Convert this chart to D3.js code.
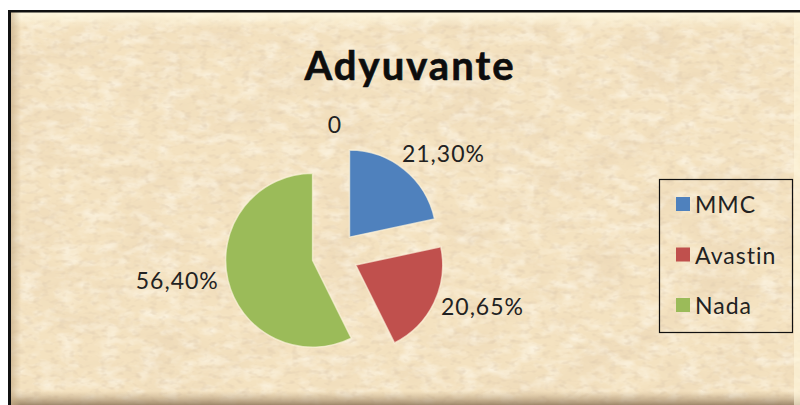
<!DOCTYPE html>
<html>
<head>
<meta charset="utf-8">
<script src="https://cdn.jsdelivr.net/npm/d3@7"></script>
<style>
  body { margin: 0; background: #fff; }
  svg { display: block; font-family: Lato, "Open Sans", sans-serif; }
</style>
</head>
<body>
<svg id="chart"></svg>
<script>
const categories = ["MMC", "Avastin", "Nada", ""];
const values = [21.30, 20.65, 56.40, 0];
const valueLabels = ["21,30%", "20,65%", "56,40%", "0"];
const colors = ["#4f81bd", "#c0504d", "#9bbb59", "#8064a2"];
const title = "Adyuvante";

const width = 800, height = 405;
const svg = d3.select("#chart").attr("width", width).attr("height", height);
const defs = svg.append("defs");

// parchment texture
const f = defs.append("filter").attr("id", "paper")
  .attr("x", 0).attr("y", 0).attr("width", "100%").attr("height", "100%");
f.append("feTurbulence").attr("type", "fractalNoise")
  .attr("baseFrequency", "0.016 0.03").attr("numOctaves", 4).attr("seed", 7);
f.append("feColorMatrix").attr("type", "matrix")
  .attr("values", "0 0 0 0 0.8  0 0 0 0 0.64  0 0 0 0 0.44  1.1 0 0 0 -0.47");

const f2 = defs.append("filter").attr("id", "paper2")
  .attr("x", 0).attr("y", 0).attr("width", "100%").attr("height", "100%");
f2.append("feTurbulence").attr("type", "fractalNoise")
  .attr("baseFrequency", "0.05 0.09").attr("numOctaves", 3).attr("seed", 3);
f2.append("feColorMatrix").attr("type", "matrix")
  .attr("values", "0 0 0 0 1  0 0 0 0 0.97  0 0 0 0 0.88  1.3 0 0 0 -0.55");

const f3 = defs.append("filter").attr("id", "paper3")
  .attr("x", 0).attr("y", 0).attr("width", "100%").attr("height", "100%");
f3.append("feTurbulence").attr("type", "fractalNoise")
  .attr("baseFrequency", "0.12 0.2").attr("numOctaves", 2).attr("seed", 11);
f3.append("feColorMatrix").attr("type", "matrix")
  .attr("values", "0 0 0 0 0.72  0 0 0 0 0.58  0 0 0 0 0.42  1.4 0 0 0 -0.72");

const gTop = defs.append("linearGradient").attr("id", "bevTop").attr("x1", 0).attr("x2", 0).attr("y1", 0).attr("y2", 1);
gTop.append("stop").attr("offset", "0%").attr("stop-color", "#fff8e0").attr("stop-opacity", 0.95);
gTop.append("stop").attr("offset", "100%").attr("stop-color", "#fff8e0").attr("stop-opacity", 0);
const gBot = defs.append("linearGradient").attr("id", "bevBot").attr("x1", 0).attr("x2", 0).attr("y1", 0).attr("y2", 1);
gBot.append("stop").attr("offset", "0%").attr("stop-color", "#b89d78").attr("stop-opacity", 0);
gBot.append("stop").attr("offset", "100%").attr("stop-color", "#8a7255").attr("stop-opacity", 0.8);
const gLeft = defs.append("linearGradient").attr("id", "bevLeft").attr("x1", 0).attr("x2", 1).attr("y1", 0).attr("y2", 0);
gLeft.append("stop").attr("offset", "0%").attr("stop-color", "#c9b08a").attr("stop-opacity", 0.7);
gLeft.append("stop").attr("offset", "100%").attr("stop-color", "#c9b08a").attr("stop-opacity", 0);

const bg = () => svg.append("rect").attr("x", 11).attr("y", 12)
  .attr("width", width - 11).attr("height", height - 12);
bg().attr("fill", "#f4e2c0");
bg().attr("filter", "url(#paper)");
bg().attr("filter", "url(#paper2)");
bg().attr("filter", "url(#paper3)");
svg.append("rect").attr("x", 11).attr("y", 12).attr("width", width - 11).attr("height", 16).attr("fill", "url(#bevTop)");
svg.append("rect").attr("x", 11).attr("y", height - 14).attr("width", width - 11).attr("height", 14).attr("fill", "url(#bevBot)");
svg.append("rect").attr("x", 11).attr("y", 12).attr("width", 10).attr("height", height - 12).attr("fill", "url(#bevLeft)");
svg.append("rect").attr("x", width - 6).attr("y", 12).attr("width", 6).attr("height", height - 12)
  .attr("fill", "#fff6dc").attr("opacity", 0.6);
// black frame edges
svg.append("rect").attr("x", 8).attr("y", 10).attr("width", width - 8).attr("height", 2.5).attr("fill", "#111");
svg.append("rect").attr("x", 8).attr("y", 10).attr("width", 3).attr("height", height - 10).attr("fill", "#111");

// title
svg.append("text")
  .attr("x", 410).attr("y", 80)
  .attr("text-anchor", "middle")
  .attr("font-size", 40).attr("font-weight", "bold")
  .attr("letter-spacing", 2)
  .attr("fill", "#0d0d0d")
  .attr("stroke", "#0d0d0d").attr("stroke-width", 0.6)
  .text(title);

// pie
const cx = 335, cy = 255, r = 87, explode = 23;
const data = categories.map((c, i) => ({ name: c, value: values[i], label: valueLabels[i], color: colors[i] }));
const pie = d3.pie().sort(null).value(d => d.value);
const arcs = pie(data);
const arc = d3.arc().innerRadius(0).outerRadius(r);
const dirOf = a => {
  const m = (a.startAngle + a.endAngle) / 2;
  return [Math.sin(m), -Math.cos(m)];
};

const pieG = svg.append("g").attr("transform", `translate(${cx},${cy})`);
pieG.selectAll("path")
  .data(arcs.filter(a => a.data.value > 0))
  .enter().append("path")
  .attr("transform", a => {
    const [dx, dy] = dirOf(a);
    return `translate(${dx * explode},${dy * explode})`;
  })
  .attr("d", arc)
  .attr("fill", a => a.data.color)
  .attr("stroke", "#fdf3dc")
  .attr("stroke-opacity", 0.7)
  .attr("stroke-width", 1.5);

// data labels, outside end
const labelR = r + 10;
pieG.selectAll("text.lbl")
  .data(arcs)
  .enter().append("text")
  .attr("class", "lbl")
  .attr("font-size", 23)
  .attr("letter-spacing", 1)
  .attr("fill", "#222")
  .attr("text-anchor", "middle")
  .attr("dominant-baseline", "central")
  .text(a => a.data.label)
  .each(function (a) {
    const [dx, dy] = dirOf(a);
    const hw = this.getComputedTextLength() / 2;
    const x = dx * (explode + labelR) + Math.sign(dx) * hw * Math.sqrt(Math.abs(dx));
    const y = dy * (explode + labelR) + dy * 6.6 - 4;
    d3.select(this).attr("x", x).attr("y", y);
  });

// legend
const legendItems = data.filter(d => d.name !== "");
const lg = svg.append("g");
lg.append("rect")
  .attr("x", 659.5).attr("y", 179.5).attr("width", 133).attr("height", 153)
  .attr("fill", "none").attr("stroke", "#111").attr("stroke-width", 1.2);
const ly = d3.scalePoint().domain(legendItems.map(d => d.name)).range([204, 305]);
const item = lg.selectAll("g.item").data(legendItems).enter().append("g")
  .attr("transform", d => `translate(676,${ly(d.name)})`);
item.append("rect").attr("x", 0).attr("y", -7).attr("width", 14).attr("height", 14)
  .attr("fill", d => d.color);
item.append("text").attr("x", 19).attr("y", 0)
  .attr("dominant-baseline", "central")
  .attr("font-size", 23).attr("letter-spacing", 1)
  .attr("fill", "#222")
  .text(d => d.name);
</script>
</body>
</html>
